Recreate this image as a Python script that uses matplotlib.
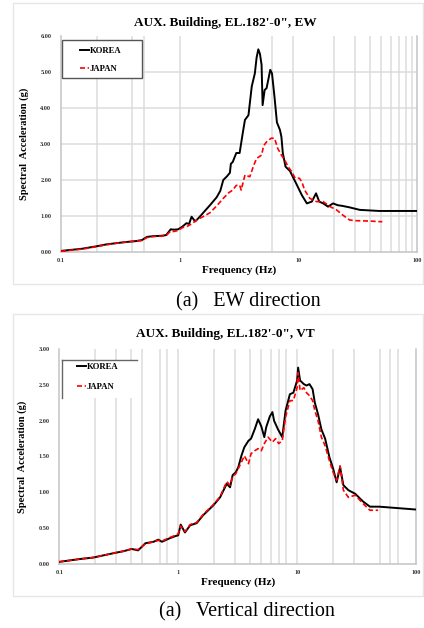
import matplotlib
matplotlib.use("Agg")
import matplotlib.pyplot as plt
from matplotlib.patches import Rectangle
from matplotlib.lines import Line2D
from matplotlib.ticker import FixedLocator, NullLocator

plt.rcParams['font.family'] = ['Liberation Serif', 'DejaVu Serif']

# ---------------- data ----------------
ew_korea_f = [0.1, 0.15, 0.2, 0.24, 0.3, 0.36, 0.42, 0.48, 0.53, 0.6, 0.7, 0.77, 0.84, 0.9, 0.97,
              1.05, 1.14, 1.2, 1.26, 1.35, 1.45, 1.57, 1.8, 2.05, 2.2, 2.33, 2.5, 2.65, 2.7, 2.8,
              3.0, 3.2, 3.4, 3.55, 3.8, 4.05, 4.3, 4.45, 4.6, 4.75, 4.9, 5.0, 5.2, 5.4, 5.8, 6.0,
              6.3, 6.6, 7.0, 7.2, 7.4, 7.8, 8.5, 9.6, 10.7, 11.8, 13.0, 14.1, 15.0, 16.2, 17.8,
              19.6, 21.5, 23.6, 27, 33, 48, 100]
ew_korea_v = [0.03, 0.09, 0.16, 0.21, 0.25, 0.28, 0.30, 0.33, 0.42, 0.44, 0.45, 0.47, 0.63, 0.62, 0.63,
              0.70, 0.80, 0.78, 0.98, 0.85, 0.95, 1.08, 1.30, 1.52, 1.70, 2.00, 2.10, 2.20, 2.45, 2.50,
              2.75, 2.75, 3.30, 3.67, 3.80, 4.60, 4.96, 5.40, 5.63, 5.50, 5.20, 4.08, 4.50, 4.55, 5.06, 4.96,
              4.30, 3.60, 3.39, 3.20, 2.75, 2.37, 2.25, 1.90, 1.58, 1.35, 1.40, 1.63, 1.40, 1.35, 1.26,
              1.35, 1.30, 1.28, 1.24, 1.17, 1.14, 1.14]

ew_japan_f = [0.1, 0.15, 0.2, 0.24, 0.3, 0.36, 0.42, 0.48, 0.53, 0.6, 0.7, 0.77, 0.84, 0.9, 0.97,
              1.06, 1.14, 1.26, 1.39, 1.57, 1.8, 2.05, 2.33, 2.6, 2.8, 3.0, 3.2, 3.3, 3.55, 3.9,
              4.2, 4.45, 4.9, 5.1, 5.4, 5.9, 6.3, 6.7, 7.2, 7.7, 8.2, 8.8, 9.4, 10.2, 10.7, 11.3,
              12.5, 14.2, 16.2, 18.5, 21, 23.6, 27, 30.5, 40, 51]
ew_japan_v = [0.02, 0.08, 0.15, 0.20, 0.25, 0.28, 0.30, 0.32, 0.40, 0.43, 0.44, 0.46, 0.58, 0.57, 0.60,
              0.68, 0.70, 0.78, 0.89, 0.98, 1.09, 1.28, 1.49, 1.65, 1.72, 1.85, 1.86, 1.72, 2.14, 2.09,
              2.40, 2.60, 2.69, 2.95, 3.06, 3.16, 3.16, 2.88, 2.69, 2.55, 2.37, 2.23, 2.05, 2.05, 1.95, 1.72,
              1.49, 1.40, 1.40, 1.26, 1.17, 1.03, 0.89, 0.87, 0.86, 0.84]

vt_korea_f = [0.1, 0.15, 0.193, 0.25, 0.304, 0.35, 0.406, 0.46, 0.53, 0.62, 0.68, 0.73, 0.85, 0.95, 1.0,
              1.05, 1.14, 1.26, 1.43, 1.62, 1.98, 2.25, 2.56, 2.73, 2.87, 3.05, 3.2, 3.4, 3.6, 3.9,
              4.1, 4.4, 4.7, 5.0, 5.3, 5.5, 5.9, 6.2, 6.4, 6.9, 7.5, 8.0, 8.7, 9.3, 10.0, 10.2,
              10.6, 11.4, 12.0, 12.7, 13.5, 14.1, 15.0, 16.0, 17.2, 18.7, 20.1, 21.5, 23, 24.5, 27,
              30.8, 36, 41, 49, 100]
vt_korea_v = [0.03, 0.07, 0.09, 0.13, 0.16, 0.18, 0.21, 0.19, 0.29, 0.31, 0.34, 0.31, 0.36, 0.39, 0.40,
              0.55, 0.44, 0.54, 0.57, 0.68, 0.82, 0.93, 1.12, 1.07, 1.24, 1.28, 1.35, 1.51, 1.63, 1.72,
              1.75, 1.88, 2.02, 1.92, 1.77, 1.91, 2.06, 2.12, 2.00, 1.88, 1.77, 2.14, 2.37, 2.39, 2.56, 2.74,
              2.56, 2.51, 2.49, 2.51, 2.44, 2.25, 2.09, 1.88, 1.75, 1.49, 1.33, 1.14, 1.35, 1.10, 1.03,
              0.98, 0.87, 0.80, 0.80, 0.76]

vt_japan_f = [0.1, 0.15, 0.193, 0.25, 0.304, 0.35, 0.406, 0.46, 0.53, 0.62, 0.68, 0.73, 0.85, 0.95, 1.0,
              1.05, 1.14, 1.26, 1.43, 1.62, 1.98, 2.25, 2.56, 2.73, 2.87, 3.05, 3.2, 3.4, 3.6, 3.9,
              4.1, 4.4, 4.7, 5.0, 5.3, 5.7, 6.2, 6.6, 7.0, 7.5, 8.0, 8.7, 9.3, 10.0, 10.2,
              10.6, 11.4, 12.0, 12.7, 13.5, 14.1, 15.0, 16.0, 17.2, 18.7, 20.1, 21.5, 23, 24.5, 27,
              30.8, 36, 41, 48]
vt_japan_v = [0.03, 0.07, 0.09, 0.13, 0.16, 0.18, 0.21, 0.20, 0.28, 0.31, 0.33, 0.32, 0.37, 0.40, 0.42,
              0.53, 0.45, 0.55, 0.58, 0.69, 0.83, 0.94, 1.15, 1.10, 1.22, 1.26, 1.33, 1.42, 1.51, 1.40,
              1.54, 1.58, 1.61, 1.58, 1.68, 1.77, 1.70, 1.75, 1.68, 1.72, 2.05, 2.28, 2.28, 2.46, 2.67,
              2.42, 2.46, 2.39, 2.35, 2.28, 2.14, 2.00, 1.77, 1.65, 1.44, 1.28, 1.17, 1.37, 1.03, 0.93,
              0.96, 0.84, 0.75, 0.75]

x_tick_vals = [0.1, 1, 10, 100]
x_tick_labels = ['0.1', '1', '10', '100']
ew_yticks = [0, 1, 2, 3, 4, 5, 6]
vt_yticks = [0, 0.5, 1.0, 1.5, 2.0, 2.5, 3.0]

ew_vgrid = [0.2, 0.4, 0.5, 1, 6, 9, 20, 30, 40, 50, 60, 70, 80, 90]
ew_hgrid = [1, 2, 3, 4, 5]
vt_vgrid = [0.2, 0.3, 0.4, 0.5, 0.7, 0.8, 1, 2, 3, 4, 5, 6, 7, 8, 10, 20, 30, 50, 60, 70]

title_ew = "AUX. Building, EL.182'-0\", EW"
title_vt = "AUX. Building, EL.182'-0\", VT"
caption_ew = "(a)   EW direction"
caption_vt = "(a)   Vertical direction"

# ---------------- figure ----------------
W, H = 424, 628
fig = plt.figure(figsize=(W / 100, H / 100), dpi=100)
fig.patch.set_facecolor('white')

def fx(px):
    return px / W

def fy(py):
    return 1 - py / H

# panel borders
for (y0, y1) in [(3, 284), (314, 596)]:
    fig.patches.append(Rectangle((fx(13), fy(y1)), fx(423) - fx(13), fy(y0) - fy(y1),
                                 transform=fig.transFigure, fill=False,
                                 edgecolor='#e6e6e6', lw=1.0))

grid_c = '#dcdcdc'
spine_c = '#c4c4c4'


def make_axes(rect_px, yticks, ymax, vgrid, hgrid):
    l, t, r, b = rect_px
    ax = fig.add_axes([fx(l), fy(b), fx(r) - fx(l), fy(t) - fy(b)])
    ax.set_xscale('log')
    ax.set_xlim(0.1, 100)
    ax.set_ylim(0, ymax)
    ax.xaxis.set_major_locator(FixedLocator(x_tick_vals))
    ax.xaxis.set_minor_locator(NullLocator())
    ax.set_xticklabels(x_tick_labels)
    ax.set_yticks(yticks)
    ax.set_yticklabels(['%.2f' % v for v in yticks])
    ax.tick_params(axis='both', length=0, labelsize=4.5)
    ax.tick_params(axis='y', pad=7)
    ax.tick_params(axis='x', pad=4)
    for lab in ax.get_xticklabels() + ax.get_yticklabels():
        lab.set_fontweight('bold')
        lab.set_color('#333333')
    for v in vgrid:
        ax.axvline(v, color=grid_c, lw=1.1, zorder=0)
    for v in hgrid:
        ax.axhline(v, color=grid_c, lw=1.1, zorder=0)
    for s in ['left', 'bottom', 'right']:
        ax.spines[s].set_color(spine_c)
        ax.spines[s].set_linewidth(1.1)
    ax.spines['top'].set_visible(False)
    ax.set_xlabel('Frequency (Hz)', fontsize=8, fontweight='bold', labelpad=2)
    ax.set_ylabel('Spectral  Acceleration (g)', fontsize=7.5, fontweight='bold', labelpad=8)
    return ax


def add_legend(ax, anchor, spacing):
    leg = ax.legend(loc='center left', bbox_to_anchor=anchor, frameon=False,
                    prop={'size': 6.2, 'weight': 'bold'}, handlelength=1.05,
                    handletextpad=0.12, borderpad=0, labelspacing=spacing, borderaxespad=0)
    leg.set_zorder(6)
    return leg

# ---- top chart (EW) ----
ax1 = make_axes((61, 36, 417, 252), ew_yticks, 6, ew_vgrid, ew_hgrid)
ax1.plot(ew_korea_f, ew_korea_v, color='black', lw=1.4, label='KOREA', zorder=3)
ax1.plot(ew_japan_f, ew_japan_v, color='#ff0000', lw=1.2, ls=(0, (3, 1.6)), label='JAPAN', zorder=4)
fig.text(fx(225), fy(23), title_ew, ha='center', va='center', fontsize=9.5, fontweight='bold')
ax1.add_patch(Rectangle((0.004, 0.806), 0.224, 0.175, transform=ax1.transAxes,
                        facecolor='white', edgecolor='#555555', lw=1.0, zorder=5))
add_legend(ax1, (0.053, 0.888), 1.2)

# ---- bottom chart (VT) ----
ax2 = make_axes((59.3, 349, 416, 564), vt_yticks, 3, vt_vgrid, [])
ax2.plot(vt_korea_f, vt_korea_v, color='black', lw=1.4, label='KOREA', zorder=3)
ax2.plot(vt_japan_f, vt_japan_v, color='#ff0000', lw=1.2, ls=(0, (3, 1.6)), label='JAPAN', zorder=4)
fig.text(fx(225), fy(334), title_vt, ha='center', va='center', fontsize=9.5, fontweight='bold')
ax2.add_patch(Rectangle((0.007, 0.772), 0.21, 0.177, transform=ax2.transAxes,
                        facecolor='white', edgecolor='none', zorder=5))
ax2.add_line(Line2D([0.007, 0.217], [0.949, 0.949], transform=ax2.transAxes, color='#666666', lw=1.0, zorder=5.5))
ax2.add_line(Line2D([0.007, 0.007], [0.949, 0.772], transform=ax2.transAxes, color='#666666', lw=1.0, zorder=5.5))
add_legend(ax2, (0.049, 0.869), 1.44)

# captions
fig.text(fx(248), fy(302), caption_ew, ha='center', va='center', fontsize=14.5)
fig.text(fx(247), fy(612), caption_vt, ha='center', va='center', fontsize=14.5)

fig.savefig('out.png', dpi=100, facecolor='white')
